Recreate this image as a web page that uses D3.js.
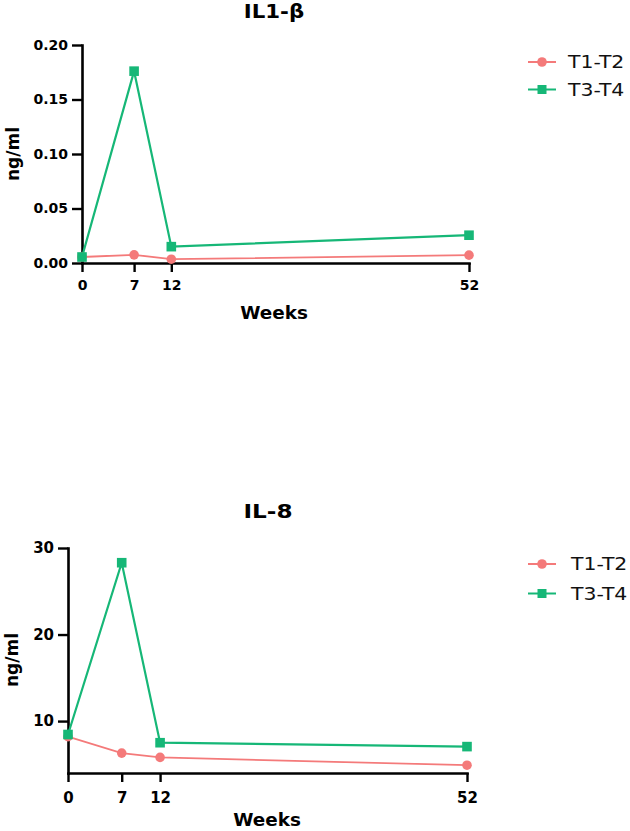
<!DOCTYPE html>
<html><head><meta charset="utf-8">
<script src="https://cdn.jsdelivr.net/npm/d3@7"></script>
<style>body{margin:0;background:#fff}svg{display:block}</style>
</head><body>
<script>
const weeks = [0, 7, 12, 52];
const seriesNames = ["T1-T2", "T3-T4"];
const il1_T1T2 = [0.0055, 0.0075, 0.0035, 0.0072];
const il1_T3T4 = [0.0055, 0.176, 0.015, 0.0255];
const il8_T1T2 = [8.2, 6.3, 5.8, 4.9];
const il8_T3T4 = [8.45, 28.3, 7.5, 7.05];
const il1Ticks = [0, 0.05, 0.10, 0.15, 0.20];
const il8Ticks = [10, 20, 30];
const colors = {"T1-T2": "#f47a7a", "T3-T4": "#16b777"};

const svg = d3.select("body").append("svg").attr("width", 630).attr("height", 831);
const FONT = "'DejaVu Sans', sans-serif";

function stretchText(g, x, y, sx, anchor, fs, weight, txt) {
  return g.append("text").attr("transform", `translate(${x},${y}) scale(${sx},1)`)
    .attr("text-anchor", anchor).attr("font-family", FONT).attr("font-weight", weight)
    .attr("font-size", fs).attr("fill", "#000").text(txt);
}

function panel(cfg) {
  const x = d3.scaleLinear().domain([0, 52]).range(cfg.xr);
  const y = d3.scaleLinear().domain(cfg.yd).range(cfg.yr);
  const g = svg.append("g");
  const xa = g.append("g").attr("transform", `translate(0,${cfg.yr[0]})`)
    .call(d3.axisBottom(x).tickValues(weeks).tickSize(cfg.xtick).tickPadding(cfg.xpad).tickSizeOuter(0));
  const ya = g.append("g").attr("transform", `translate(${cfg.xr[0]},0)`)
    .call(d3.axisLeft(y).tickValues(cfg.ticks).tickFormat(cfg.fmt).tickSize(10).tickPadding(4).tickSizeOuter(0));
  [xa, ya].forEach(a => {
    a.select(".domain").attr("stroke", "#000").attr("stroke-width", 2.6).attr("stroke-linecap", "square");
    a.selectAll(".tick line").attr("stroke", "#000").attr("stroke-width", 2.4);
    a.selectAll(".tick text").attr("fill", "#000").attr("font-family", FONT)
      .attr("font-weight", "bold").attr("font-size", cfg.tickFs);
  });
  const series = [
    {name: "T1-T2", vals: cfg.a},
    {name: "T3-T4", vals: cfg.b}
  ];
  const line = d3.line().x((d, i) => x(weeks[i])).y(d => y(d));
  series.forEach(s => {
    g.append("path").datum(s.vals).attr("d", line).attr("fill", "none")
      .attr("stroke", colors[s.name]).attr("stroke-width", s.name === "T3-T4" ? 2.2 : 1.8);
  });
  series.forEach(s => {
    if (s.name === "T1-T2") {
      g.selectAll(null).data(s.vals).enter().append("circle")
        .attr("cx", (d, i) => x(weeks[i])).attr("cy", d => y(d)).attr("r", 4.8)
        .attr("fill", colors[s.name]);
    } else {
      g.selectAll(null).data(s.vals).enter().append("rect")
        .attr("x", (d, i) => x(weeks[i]) - 4.8).attr("y", d => y(d) - 4.8)
        .attr("width", 9.6).attr("height", 9.6).attr("fill", colors[s.name]);
    }
  });
  stretchText(g, cfg.titleX, cfg.titleY, cfg.titleSx, "middle", 19, "bold", cfg.title);
  stretchText(g, cfg.weeksX, cfg.weeksY, 1.02, "middle", 18, "bold", "Weeks");
  g.append("text").attr("transform", `translate(${cfg.ylx},${cfg.yly}) rotate(-90)`).attr("text-anchor", "middle")
    .attr("font-family", FONT).attr("font-weight", "bold").attr("font-size", 17).text("ng/ml");
  series.forEach((s, i) => {
    const ly = cfg.legY + i * cfg.legGap;
    g.append("line").attr("x1", 528).attr("x2", 556).attr("y1", ly).attr("y2", ly)
      .attr("stroke", colors[s.name]).attr("stroke-width", 2);
    if (s.name === "T1-T2") g.append("circle").attr("cx", 542).attr("cy", ly).attr("r", 4.8).attr("fill", colors[s.name]);
    else g.append("rect").attr("x", 537.5).attr("y", ly - 4.5).attr("width", 9).attr("height", 9).attr("fill", colors[s.name]);
    stretchText(g, cfg.legTx, ly + 6, 1.2, "start", 17, "normal", s.name).attr("fill", "#111");
  });
}

panel({
  title: "IL1-β", titleX: 274, titleY: 18, titleSx: 1.12,
  xr: [82, 469], yd: [0, 0.2], yr: [263, 45], ticks: il1Ticks, fmt: d3.format(".2f"),
  a: il1_T1T2, b: il1_T3T4, xtick: 9, xpad: 8, tickFs: 14,
  weeksX: 274, weeksY: 319, ylx: 19, yly: 154,
  legY: 62, legGap: 27.5, legTx: 568
});
panel({
  title: "IL-8", titleX: 268, titleY: 518, titleSx: 1.22,
  xr: [68, 467], yd: [4, 30], yr: [773, 548], ticks: il8Ticks, fmt: d3.format("d"),
  a: il8_T1T2, b: il8_T3T4, xtick: 9, xpad: 10, tickFs: 15,
  weeksX: 267, weeksY: 826, ylx: 18, yly: 660,
  legY: 564, legGap: 29.5, legTx: 571
});
</script>
</body></html>
